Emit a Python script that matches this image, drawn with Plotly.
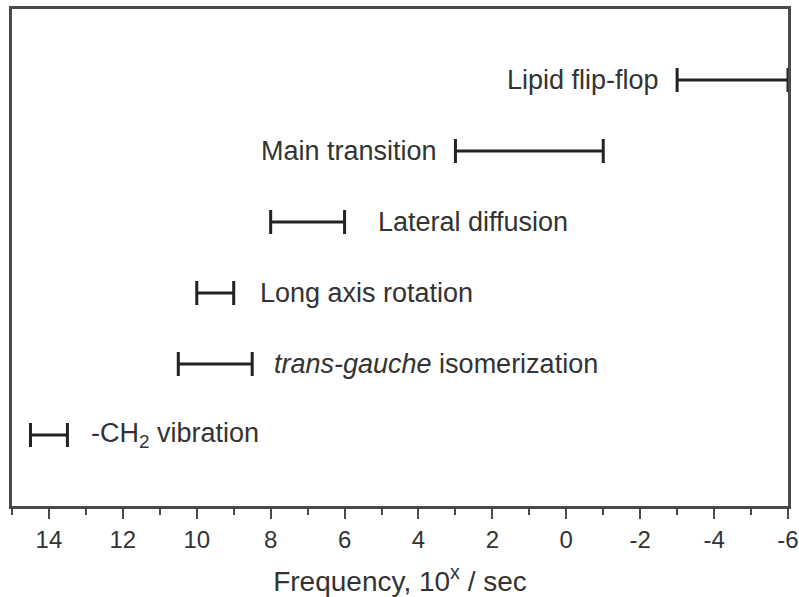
import plotly.graph_objects as go

# Lipid membrane motions and their characteristic frequency ranges (log10 of 1/sec)
processes = [
    "Lipid flip-flop",
    "Main transition",
    "Lateral diffusion",
    "Long axis rotation",
    "<i>trans-gauche</i> isomerization",
    "-CH<sub>2</sub> vibration",
]
freq_high = [-3.0, 3.0, 8.0, 10.0, 10.5, 14.5]
freq_low = [-6.0, -1.0, 6.0, 9.0, 8.5, 13.5]
rows = [6, 5, 4, 3, 2, 1]

# label placement: which end of the bar the text sits beside, and gap in px
label_side = ["left", "left", "right", "right", "right", "right"]
label_gap = [16, 16, 31, 24, 20, 22]

tick_vals = [14, 12, 10, 8, 6, 4, 2, 0, -2, -4, -6]
tick_text = [str(v) for v in tick_vals]

mid = [(a + b) / 2 for a, b in zip(freq_high, freq_low)]
half = [abs(a - b) / 2 for a, b in zip(freq_high, freq_low)]

ink = "#222222"
frame = "#4a4a4a"
text_col = "#333333"
font_family = "Liberation Sans, Arial, sans-serif"

fig = go.Figure()
fig.add_trace(
    go.Scatter(
        x=mid,
        y=rows,
        mode="markers",
        marker=dict(size=1, opacity=0),
        error_x=dict(
            type="data",
            array=half,
            symmetric=True,
            color=ink,
            thickness=3,
            width=12,
        ),
        hoverinfo="skip",
        showlegend=False,
    )
)

for name, hi, lo, r, side, gap in zip(
    processes, freq_high, freq_low, rows, label_side, label_gap
):
    if side == "left":
        fig.add_annotation(
            x=hi, y=r, text=name, showarrow=False,
            xanchor="right", yanchor="middle", xshift=-gap,
            font=dict(size=27, color=text_col, family=font_family),
        )
    else:
        fig.add_annotation(
            x=lo, y=r, text=name, showarrow=False,
            xanchor="left", yanchor="middle", xshift=gap,
            font=dict(size=27, color=text_col, family=font_family),
        )

fig.update_layout(
    width=799,
    height=597,
    margin=dict(l=12, r=11, t=9, b=91),
    paper_bgcolor="white",
    plot_bgcolor="white",
    font=dict(family=font_family, color=text_col),
    xaxis=dict(
        range=[15, -6],
        automargin=False,
        tickmode="array",
        tickvals=tick_vals,
        ticktext=tick_text,
        ticks="outside",
        ticklen=10,
        tickwidth=2,
        tickcolor=frame,
        minor=dict(dtick=1, ticks="outside", ticklen=6, tickwidth=2, tickcolor=frame),
        showgrid=False,
        zeroline=False,
        showline=True,
        linecolor=frame,
        linewidth=3,
        mirror=True,
        tickfont=dict(size=24, color=text_col),
        title=dict(
            text="Frequency, 10<sup>x</sup> / sec",
            font=dict(size=28, color=text_col),
            standoff=20,
        ),
    ),
    yaxis=dict(
        range=[0, 7],
        automargin=False,
        showticklabels=False,
        ticks="",
        showgrid=False,
        zeroline=False,
        showline=True,
        linecolor=frame,
        linewidth=3,
        mirror=True,
    ),
)

fig.write_html("out.html")
